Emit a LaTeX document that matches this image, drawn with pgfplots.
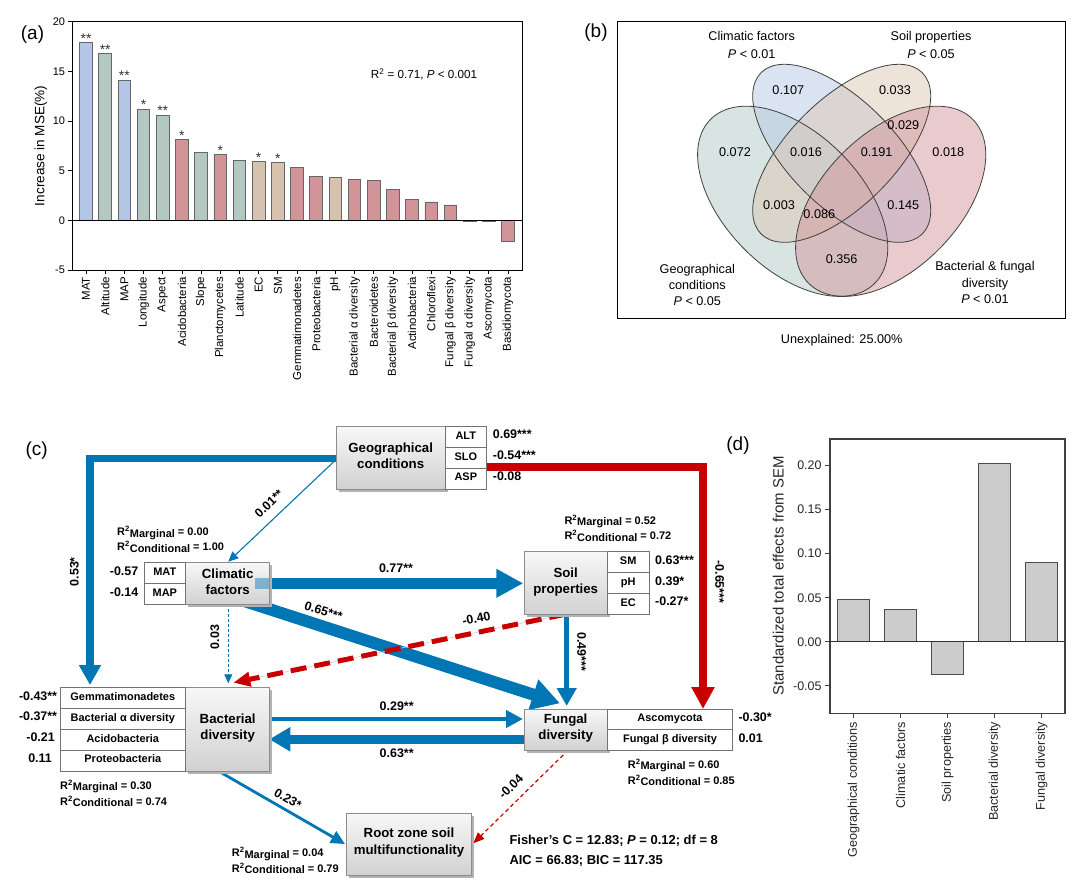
\documentclass[border=0pt]{standalone}
\usepackage{pgfplots}
\pgfplotsset{compat=1.18}
\usepackage{fontspec}
\setmainfont{Liberation Sans}
\usetikzlibrary{arrows.meta}

\definecolor{barblue}{HTML}{B4C6E6}
\definecolor{bargreen}{HTML}{B3C8C3}
\definecolor{barred}{HTML}{D39499}
\definecolor{bartan}{HTML}{D6C2AE}
\definecolor{vgreen}{HTML}{B1C9C3}
\definecolor{vblue}{HTML}{B5C8E6}
\definecolor{vtan}{HTML}{DBC7B3}
\definecolor{vpink}{HTML}{D3959B}
\definecolor{semblue}{RGB}{0,118,180}
\definecolor{semred}{RGB}{200,0,0}

\newcommand{\fs}[1]{\fontsize{#1}{#1}\selectfont}
\newcommand{\rsq}[2]{R\textsuperscript{2}\raisebox{-1.3bp}{#1} = #2}
\newcommand{\bx}{\fs{13.3}\bfseries}
\newcommand{\ind}{\fs{11}\bfseries}
\newcommand{\val}{\fs{12.5}\bfseries}
\newcommand{\rr}{\fs{11}\bfseries}
% grey box with shadow: x1,y1,x2,y2
\newcommand{\gbox}[4]{%
  \fill[black!30] ({#1+2.5},{#2+2.5}) rectangle ({#3+2.5},{#4+2.5});
  \shade[top color=black!3, bottom color=black!18, draw=black!45, line width=0.8bp] (#1,#2) rectangle (#3,#4);}
\newcommand{\wbox}[4]{%
  \draw[black!55, fill=white, line width=0.9bp] (#1,#2) rectangle (#3,#4);}

\pgfplotsset{stars/.style={nodes near coords, point meta=explicit symbolic,
  every node near coord/.style={font=\fs{14}, text=black!80, inner sep=0pt, anchor=south, yshift=-1bp}}}

\begin{document}
\begin{tikzpicture}
\useasboundingbox (0,0) rectangle (1080bp,-885bp);

% ---------------- (a) random forest importance ----------------
\begin{axis}[
  at={(72bp,-270bp)}, anchor=south west,
  scale only axis, width=450bp, height=248.3bp,
  xmin=-0.73, xmax=22.73, ymin=-5, ymax=20,
  ytick={-5,0,5,10,15,20},
  xtick={0,...,22},
  xticklabels={MAT,Altitude,MAP,Longitude,Aspect,Acidobacteria,Slope,Planctomycetes,Latitude,EC,SM,Gemmatimonadetes,Proteobacteria,pH,Bacterial α diversity,Bacteroidetes,Bacterial β diversity,Actinobacteria,Chloroflexi,Fungal β diversity,Fungal α diversity,Ascomycota,Basidiomycota},
  xticklabel style={rotate=90, anchor=east, font=\fs{11.5}},
  yticklabel style={font=\fs{11}},
  /pgf/number format/assume math mode=true,
  xtick pos=lower, ytick pos=left,
  tick align=outside, major tick length=3.5bp,
  tick style={black, line width=0.8bp},
  axis line style={line width=0.9bp},
  ybar, bar width=12.7bp,
]
\addplot[fill=barblue, draw=black!60, line width=0.8bp, bar shift=0pt, stars]
  coordinates {(0,17.9)[**] (2,14.1)[**]};
\addplot[fill=bargreen, draw=black!60, line width=0.8bp, bar shift=0pt, stars]
  coordinates {(1,16.8)[**] (3,11.2)[*] (4,10.6)[**]};
\addplot[fill=bargreen, draw=black!60, line width=0.8bp, bar shift=0pt]
  coordinates {(6,6.8) (8,6.0)};
\addplot[fill=bartan, draw=black!60, line width=0.8bp, bar shift=0pt, stars]
  coordinates {(9,5.9)[*] (10,5.8)[*]};
\addplot[fill=bartan, draw=black!60, line width=0.8bp, bar shift=0pt]
  coordinates {(13,4.3)};
\addplot[fill=barred, draw=black!60, line width=0.8bp, bar shift=0pt, stars]
  coordinates {(5,8.1)[*] (7,6.6)[*]};
\addplot[fill=barred, draw=black!60, line width=0.8bp, bar shift=0pt]
  coordinates {(11,5.3) (12,4.4) (14,4.13) (15,4.03) (16,3.15) (17,2.08)
               (18,1.85) (19,1.55) (20,-0.1) (21,-0.15) (22,-2.13)};
\draw[line width=0.9bp] (axis cs:-0.73,0) -- (axis cs:22.73,0);
\end{axis}

% ---------------- (d) SEM total effects ----------------
\begin{axis}[
  at={(830bp,-713.3bp)}, anchor=south west,
  scale only axis, width=235bp, height=274.3bp,
  xmin=-0.5, xmax=4.5, ymin=-0.081, ymax=0.23,
  ytick={-0.05,0,0.05,0.1,0.15,0.2},
  scaled y ticks=false,
  yticklabel style={font=\fs{12.5}, text=black!85,
    /pgf/number format/fixed, /pgf/number format/fixed zerofill,
    /pgf/number format/precision=2},
  xtick={0,...,4},
  xticklabels={Geographical conditions,Climatic factors,Soil properties,Bacterial diversity,Fungal diversity},
  xticklabel style={rotate=90, anchor=east, font=\fs{12.7}, text=black!85},
  /pgf/number format/assume math mode=true,
  xtick pos=lower, ytick pos=left,
  tick align=outside, major tick length=5bp,
  tick style={black!75, line width=1bp},
  axis line style={black!75, line width=1.2bp},
  ybar, bar width=31.7bp,
]
\addplot[fill=black!20, draw=black!70, line width=1bp, bar shift=0pt]
  coordinates {(0,0.048) (1,0.0367) (2,-0.0367) (3,0.202) (4,0.090)};
\draw[black!80, line width=1bp] (axis cs:-0.5,0) -- (axis cs:4.5,0);
\end{axis}

\begin{scope}[x=1bp, y=-1bp]
% panel letters
\node[font=\fs{19}] at (32.5,35) {(a)};
\node[font=\fs{19}] at (596,33) {(b)};
\node[font=\fs{19}] at (36.7,451) {(c)};
\node[font=\fs{19}] at (738,446) {(d)};

% (a) annotations
\node[rotate=90, font=\fs{13.6}, anchor=mid] at (41.7,145.8) {Increase in MSE(\%)};
\node[font=\fs{11.7}, anchor=mid] at (424,76) {R\textsuperscript{2} = 0.71, \textit{P} < 0.001};

% (d) y label
\node[rotate=90, font=\fs{15}, anchor=mid, text=black!85] at (781,576) {Standardized total effects from SEM};

% ---------------- (b) Venn diagram ----------------
\fill[vgreen, fill opacity=0.5, rotate around={-45:(792.7,201.3)}] (792.7,201.3) ellipse [x radius=116bp, y radius=68bp];
\fill[vblue, fill opacity=0.5, rotate around={-45:(841.7,153.3)}] (841.7,153.3) ellipse [x radius=114bp, y radius=53.3bp];
\fill[vtan, fill opacity=0.5, rotate around={45:(841.7,153.3)}] (841.7,153.3) ellipse [x radius=114bp, y radius=53.3bp];
\fill[vpink, fill opacity=0.5, rotate around={45:(890.7,201.3)}] (890.7,201.3) ellipse [x radius=116bp, y radius=68bp];
\draw[black!75, line width=0.8bp, rotate around={-45:(792.7,201.3)}] (792.7,201.3) ellipse [x radius=116bp, y radius=68bp];
\draw[black!75, line width=0.8bp, rotate around={-45:(841.7,153.3)}] (841.7,153.3) ellipse [x radius=114bp, y radius=53.3bp];
\draw[black!75, line width=0.8bp, rotate around={45:(841.7,153.3)}] (841.7,153.3) ellipse [x radius=114bp, y radius=53.3bp];
\draw[black!75, line width=0.8bp, rotate around={45:(890.7,201.3)}] (890.7,201.3) ellipse [x radius=116bp, y radius=68bp];
\draw[line width=1bp] (617,21.7) rectangle (1065,318);
\begin{scope}[every node/.style={font=\fs{12.7}, anchor=mid}]
\node at (788.3,91.7) {0.107};
\node at (895,91.7) {0.033};
\node at (735,154) {0.072};
\node at (806,154) {0.016};
\node at (876.7,154) {0.191};
\node at (948.3,154) {0.018};
\node at (903.3,126.7) {0.029};
\node at (779,207.3) {0.003};
\node at (819.3,216) {0.086};
\node at (903.3,207.3) {0.145};
\node at (841.7,260.7) {0.356};
\node at (751.7,38.3) {Climatic factors};
\node at (751.7,55.5) {\textit{P} < 0.01};
\node at (931,38.3) {Soil properties};
\node at (931,55.5) {\textit{P} < 0.05};
\node at (697.3,270.7) {Geographical};
\node at (697.3,286.7) {conditions};
\node at (697.3,303.3) {\textit{P} < 0.05};
\node at (985,268.3) {Bacterial \& fungal};
\node at (985,285) {diversity};
\node at (985,301) {\textit{P} < 0.01};
\node at (841.7,341) {Unexplained: 25.00\%};
\end{scope}

% ---------------- (c) SEM path diagram ----------------
% paths
\draw[semblue, line width=7.5bp, line join=miter, -{Triangle[length=20bp, width=21bp]}] (340,458.3) -- (90,458.3) -- (90,685);
\draw[semblue, line width=1.1bp, -{Triangle[length=10bp, width=9bp]}] (334,461.5) -- (228.3,561.7);
\draw[semred, line width=8.5bp, line join=miter, -{Triangle[length=22bp, width=22bp]}] (480,467) -- (703,467) -- (703,709);
\draw[semblue, line width=11.5bp, -{Triangle[length=27bp, width=27bp]}] (265,583.3) -- (523.3,583.3);
\draw[semblue, line width=12bp, -{Triangle[length=28bp, width=30bp]}] (235,598) -- (560,703.3);
\draw[semblue, line width=1bp, dash pattern=on 3bp off 2bp, -{Triangle[length=9bp, width=8bp]}] (228.3,604) -- (228.3,683.3);
\draw[black!20, line width=0.6bp] (565,614.3) -- (236,682);
\draw[semred, line width=5bp, dash pattern=on 16bp off 8bp, -{Triangle[length=17bp, width=14bp]}] (565,614.3) -- (233.3,682.7);
\draw[semblue, line width=5bp, -{Triangle[length=18bp, width=19bp]}] (566.7,614.3) -- (566.7,706);
\draw[semblue, line width=4.5bp, -{Triangle[length=17bp, width=17bp]}] (268,719) -- (523,719);
\draw[semblue, line width=8.5bp, -{Triangle[length=21bp, width=23bp]}] (524,739.3) -- (269.3,739.3);
\draw[semblue, line width=2.8bp, -{Triangle[length=14bp, width=13bp]}] (218.3,771) -- (345,844);
\draw[semred, line width=1.2bp, dash pattern=on 4bp off 3bp, -{Triangle[length=11bp, width=9bp]}] (568.3,750) -- (473.3,843.3);

% latent variable boxes
\gbox{336.7}{426.7}{445}{489}
\gbox{185.7}{562.7}{269.3}{604}
\fill[semblue, opacity=0.45] (255,577.5) rectangle (269.3,589.1);
\gbox{524}{551.7}{607.3}{614.3}
\gbox{185.7}{687.7}{269.3}{771}
\gbox{524}{709}{607.3}{750}
\gbox{346}{813.3}{471.7}{875}

% indicator boxes
\wbox{445}{426.7}{486.7}{447.7}
\wbox{445}{447.7}{486.7}{468.3}
\wbox{445}{468.3}{486.7}{489}
\wbox{144}{562.7}{185.7}{583.3}
\wbox{144}{583.3}{185.7}{604}
\wbox{607.3}{551.7}{649}{572.7}
\wbox{607.3}{572.7}{649}{593.3}
\wbox{607.3}{593.3}{649}{614.3}
\wbox{60}{687.7}{185.7}{708.3}
\wbox{60}{708.3}{185.7}{729.3}
\wbox{60}{729.3}{185.7}{750}
\wbox{60}{750}{185.7}{771}
\wbox{607.3}{709}{732.7}{729.3}
\wbox{607.3}{729.3}{732.7}{750}

% box texts
\begin{scope}[every node/.style={anchor=mid, inner sep=0pt}]
\node[font=\bx] at (390.7,450) {Geographical};
\node[font=\bx] at (390.7,465.5) {conditions};
\node[font=\bx] at (227.7,576) {Climatic};
\node[font=\bx] at (227.7,591.7) {factors};
\node[font=\bx] at (565.7,575.3) {Soil};
\node[font=\bx] at (565.7,591) {properties};
\node[font=\bx] at (227.7,721) {Bacterial};
\node[font=\bx] at (227.7,737.3) {diversity};
\node[font=\bx] at (565.7,721) {Fungal};
\node[font=\bx] at (565.7,737.3) {diversity};
\node[font=\bx] at (409,835) {Root zone soil};
\node[font=\bx] at (409,851.7) {multifunctionality};

\node[font=\ind] at (465.8,437) {ALT};
\node[font=\ind] at (465.8,457.5) {SLO};
\node[font=\ind] at (465.8,478.3) {ASP};
\node[font=\ind] at (164.8,573) {MAT};
\node[font=\ind] at (164.8,593.5) {MAP};
\node[font=\ind] at (628.2,562) {SM};
\node[font=\ind] at (628.2,583) {pH};
\node[font=\ind] at (628.2,603.5) {EC};
\node[font=\ind] at (122.8,698) {Gemmatimonadetes};
\node[font=\ind] at (122.8,718.8) {Bacterial α diversity};
\node[font=\ind] at (122.8,739.5) {Acidobacteria};
\node[font=\ind] at (122.8,760.3) {Proteobacteria};
\node[font=\ind] at (670,719.2) {Ascomycota};
\node[font=\ind] at (670,739.7) {Fungal β diversity};

% loadings
\node[font=\val, anchor=mid west] at (492.7,436) {0.69***};
\node[font=\val, anchor=mid west] at (492.7,457) {-0.54***};
\node[font=\val, anchor=mid west] at (492.7,478) {-0.08};
\node[font=\val, anchor=mid west] at (655,561.7) {0.63***};
\node[font=\val, anchor=mid west] at (655,583.3) {0.39*};
\node[font=\val, anchor=mid west] at (655,603.3) {-0.27*};
\node[font=\val, anchor=mid west] at (738.3,719) {-0.30*};
\node[font=\val, anchor=mid west] at (738.3,740) {0.01};
\node[font=\val, anchor=mid east] at (138.5,573) {-0.57};
\node[font=\val, anchor=mid east] at (138.5,593.7) {-0.14};
\node[font=\val, anchor=mid east] at (57.3,697.7) {-0.43**};
\node[font=\val, anchor=mid east] at (57.3,718.3) {-0.37**};
\node[font=\val, anchor=mid east] at (55,739.3) {-0.21};
\node[font=\val, anchor=mid east] at (52,760) {0.11};

% R2 values
\node[font=\rr, anchor=mid west] at (117,533.3) {\rsq{Marginal}{0.00}};
\node[font=\rr, anchor=mid west] at (117,548.3) {\rsq{Conditional}{1.00}};
\node[font=\rr, anchor=mid west] at (564.3,521.7) {\rsq{Marginal}{0.52}};
\node[font=\rr, anchor=mid west] at (564.3,537.3) {\rsq{Conditional}{0.72}};
\node[font=\rr, anchor=mid west] at (60,786.7) {\rsq{Marginal}{0.30}};
\node[font=\rr, anchor=mid west] at (60,802.7) {\rsq{Conditional}{0.74}};
\node[font=\rr, anchor=mid west] at (627.7,766) {\rsq{Marginal}{0.60}};
\node[font=\rr, anchor=mid west] at (627.7,781.7) {\rsq{Conditional}{0.85}};
\node[font=\rr, anchor=mid west] at (231.7,854.3) {\rsq{Marginal}{0.04}};
\node[font=\rr, anchor=mid west] at (231.7,870) {\rsq{Conditional}{0.79}};

% path coefficients
\node[font=\val, rotate=90] at (76,571.7) {0.53*};
\node[font=\val, rotate=44] at (270,505) {0.01**};
\node[font=\val] at (396,570) {0.77**};
\node[font=\val, rotate=-17.5] at (323,613) {0.65***};
\node[font=\val, rotate=90] at (216.5,637) {0.03};
\node[font=\val, rotate=11.7] at (476.7,620) {-0.40};
\node[font=\val, rotate=-90] at (580,652) {0.49***};
\node[font=\val, rotate=-90] at (718,582) {-0.65***};
\node[font=\val] at (396.7,707.7) {0.29**};
\node[font=\val] at (396.7,755) {0.63**};
\node[font=\val, rotate=-30] at (287,800) {0.23*};
\node[font=\val, rotate=44.5] at (512,788) {-0.04};

% model fit
\node[font=\fs{13}\bfseries, anchor=mid west] at (509.3,841.7) {Fisher's C = 12.83; \textit{P} = 0.12; df = 8};
\node[font=\fs{13}\bfseries, anchor=mid west] at (509.3,861.7) {AIC = 66.83; BIC = 117.35};
\end{scope}
\end{scope}
\end{tikzpicture}
\end{document}
